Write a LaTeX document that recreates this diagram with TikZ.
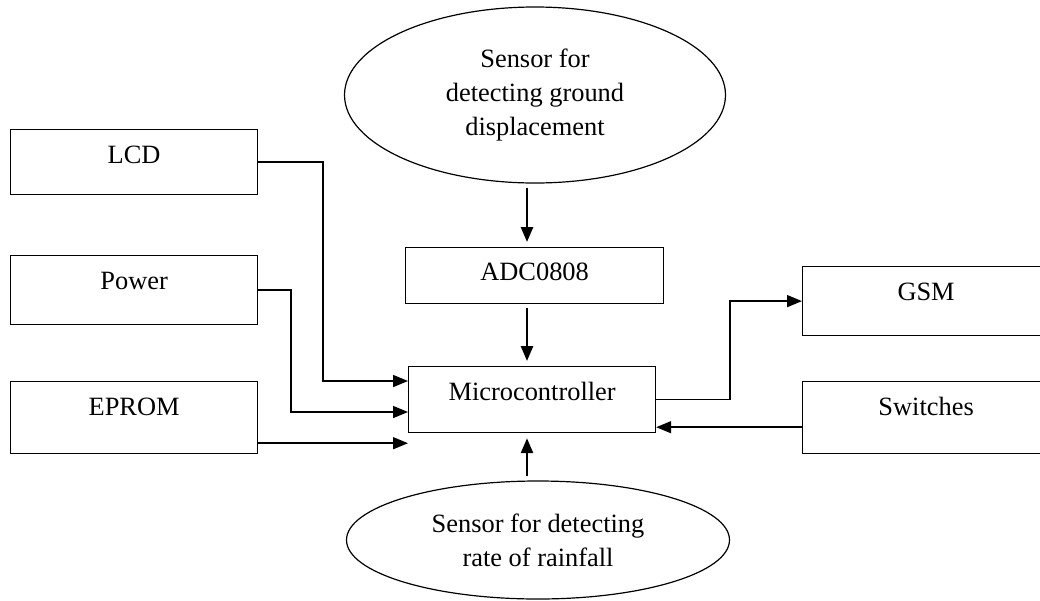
\documentclass[tikz,border=0pt]{standalone}
\usepackage{fontspec}
\setmainfont{Liberation Serif}
\usetikzlibrary{calc, shapes, arrows.meta}
\tikzset{>={Triangle[length=15pt, width=12pt]}}
\tikzset{blk/.style={draw, line width=1.2pt, inner sep=0pt, minimum width=247pt, text height=34pt, text depth=#1},
  oval/.style={draw, ellipse, line width=1.2pt, inner sep=0pt, align=center},
  wire/.style={->, line width=1.6pt},
  feed/.style={->, line width=2.6pt, shorten <=4pt, shorten >=5pt}}

\begin{document}
\begin{tikzpicture}[x=1pt, y=-1pt, font=\fontsize{26.4}{34}\selectfont]
\useasboundingbox (0,0) rectangle (1040,600);
\node[oval, minimum width=381pt, minimum height=176pt] (gnd) at (535,95) {Sensor for\\detecting ground\\displacement};
\node[oval, minimum width=383pt, minimum height=118pt] (rain) at (538,540) {Sensor for detecting\\rate of rainfall};
\node[blk=31pt, anchor=north west] (lcd) at (10,129) {LCD};
\node[blk=35pt, anchor=north west] (power) at (10,255) {Power};
\node[blk=38pt, anchor=north west] (eprom) at (10,381) {EPROM};
\node[blk=23pt, text height=33pt, minimum width=258pt, anchor=north west] (adc) at (405,247) {ADC0808};
\node[blk=32pt, anchor=north west] (micro) at (408,366) {Microcontroller};
\node[blk=35pt, anchor=north west] (gsm) at (802,266) {GSM};
\node[blk=38pt, anchor=north west] (switches) at (802,381) {Switches};
\coordinate (ax) at (527,0);
\coordinate (m1) at ($(micro.north west)+(0,15)$);
\coordinate (m2) at ($(micro.north west)+(0,46)$);
\coordinate (e1) at ($(eprom.south east)+(0,-11)$);
\coordinate (m3) at (micro.west |- e1);
\coordinate (s1) at ($(switches.south west)+(0,-27)$);
\draw[feed] (gnd.south -| ax) -- (adc.north -| ax);
\draw[feed] (adc.south -| ax) -- (micro.north -| ax);
\draw[feed] (rain.north -| ax) -- (micro.south -| ax);
\draw[wire] (lcd.east) -- ++(65,0) |- (m1);
\draw[wire] (power.east) -- ++(33,0) |- (m2);
\draw[wire] (e1) -- (m3);
\draw[wire] (micro.east) -- ++(74,0) |- (gsm.west);
\draw[wire] (s1) -- (s1 -| micro.east);
\end{tikzpicture}
\end{document}
